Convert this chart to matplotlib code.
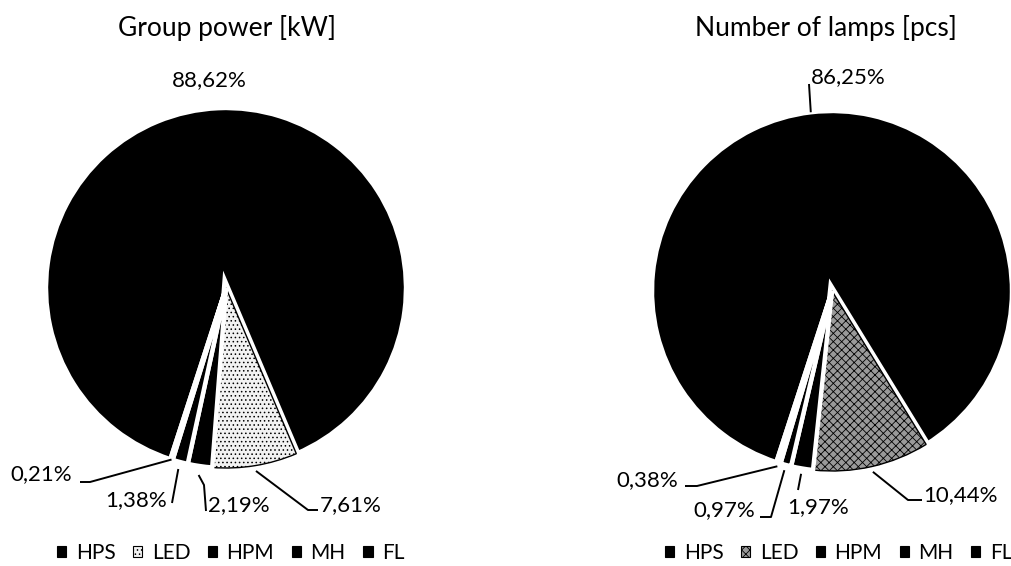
import numpy as np
import matplotlib
matplotlib.use("Agg")
import matplotlib.pyplot as plt
from matplotlib import patheffects as pe
from matplotlib.patches import Patch

plt.rcParams['font.family'] = ['Lato', 'DejaVu Sans']
plt.rcParams['hatch.linewidth'] = 0.6

# ---- data ----
categories = ["HPS", "LED", "HPM", "MH", "FL"]
power_share = [88.62, 7.61, 2.19, 1.38, 0.21]     # Group power [kW], %
lamps_share = [86.25, 10.44, 1.97, 0.97, 0.38]    # Number of lamps [pcs], %
titles = ["Group power [kW]", "Number of lamps [pcs]"]

W, H = 1012, 566
fig = plt.figure(figsize=(W / 100, H / 100), dpi=100)

START = -108
R_PX = 180.0


def make_axes(left_px, width_px, cx, cy):
    ax = fig.add_axes([left_px / W, 0, width_px / W, 1])
    ax.set_axis_off()

    def to_data(x, y):
        return (x - cx) / R_PX, (cy - y) / R_PX

    def fix_limits():
        ax.set_xlim((left_px - cx) / R_PX, (left_px + width_px - cx) / R_PX)
        ax.set_ylim((cy - H) / R_PX, cy / R_PX)
        ax.set_aspect("auto")
    return ax, to_data, fix_limits


def draw_pie(ax, values, led_face, led_hatch):
    faces = ["black", led_face, "black", "black", "black"]
    wedges, _ = ax.pie(values, colors=faces, startangle=START, counterclock=False,
                       radius=1.0, center=(0, 0), frame=True,
                       wedgeprops=dict(edgecolor="white", linewidth=3.2))
    led = wedges[1]
    led.set_edgecolor("black")
    led.set_linewidth(1.0)
    led.set_hatch(led_hatch)
    led.set_path_effects([pe.Stroke(linewidth=6, foreground="white"), pe.Normal()])
    return wedges


def mid_point(w, r):
    a = np.deg2rad((w.theta1 + w.theta2) / 2)
    return r * np.cos(a), r * np.sin(a)


def fmt(v):
    return f"{v:.2f}".replace(".", ",") + "%"


LABEL_FS = 16
TITLE_FS = 19
LEGEND_FS = 15

# ---------------- left pie ----------------
axL, pL, fixL = make_axes(0, 506, 226, 288)
wl = draw_pie(axL, power_share, "#f2f2f2", "....")
fixL()
axL.text(*pL(227, 28), titles[0], ha="center", va="center", fontsize=TITLE_FS)

left_specs = [
    # value index, text anchor (px), ha, leader elbows (px), radius of pie end
    (0, (209, 80), "center", [], None),
    (4, (72, 474), "right", [(80, 482), (90, 482)], 1.0),
    (3, (167, 500), "right", [(172, 503)], 1.04),
    (2, (208, 505), "left", [(206, 511), (204, 485)], 1.05),
    (1, (320, 505), "left", [(318, 510), (308, 510)], 1.03),
]
for i, (x, y), ha, elbows, r in left_specs:
    axL.text(*pL(x, y), fmt(power_share[i]), ha=ha, va="center", fontsize=LABEL_FS)
    if elbows:
        pts = [pL(*p) for p in elbows] + [mid_point(wl[i], r)]
        xs, ys = zip(*pts)
        axL.plot(xs, ys, color="black", lw=1.4, solid_capstyle="butt")

# ---------------- right pie ----------------
axR, pR, fixR = make_axes(506, 506, 832, 291)
wr = draw_pie(axR, lamps_share, "#9a9a9a", "xxxx")
fixR()
axR.text(*pR(826, 28), titles[1], ha="center", va="center", fontsize=TITLE_FS)

right_specs = [
    (0, (811, 77), "left", [(809, 84)], 1.0),
    (4, (678, 480), "right", [(685, 486), (697, 486)], 1.02),
    (3, (755, 510), "right", [(760, 517), (771, 517)], 1.03),
    (2, (787, 507), "left", [(798, 490)], 1.03),
    (1, (923, 495), "left", [(922, 500), (908, 500)], 1.03),
]
for i, (x, y), ha, elbows, r in right_specs:
    axR.text(*pR(x, y), fmt(lamps_share[i]), ha=ha, va="center", fontsize=LABEL_FS)
    pts = [pR(*p) for p in elbows] + [mid_point(wr[i], r)]
    xs, ys = zip(*pts)
    axR.plot(xs, ys, color="black", lw=1.4, solid_capstyle="butt")


# ---------------- legends ----------------
def legend_handles(wedges):
    return [Patch(facecolor=w.get_facecolor(), edgecolor="black",
                  linewidth=0.8, hatch=w.get_hatch()) for w in wedges]


for ax, wedges, x0 in [(axL, wl, 57), (axR, wr, 665)]:
    ax.legend(legend_handles(wedges), categories, ncol=5, frameon=False,
              loc="center left", bbox_to_anchor=(x0 / W, 1 - 553 / H),
              bbox_transform=fig.transFigure, fontsize=LEGEND_FS,
              handlelength=0.45, handleheight=0.45, handletextpad=0.45,
              columnspacing=0.84, borderpad=0, borderaxespad=0)

fig.savefig("out.png", dpi=100, facecolor="white")
